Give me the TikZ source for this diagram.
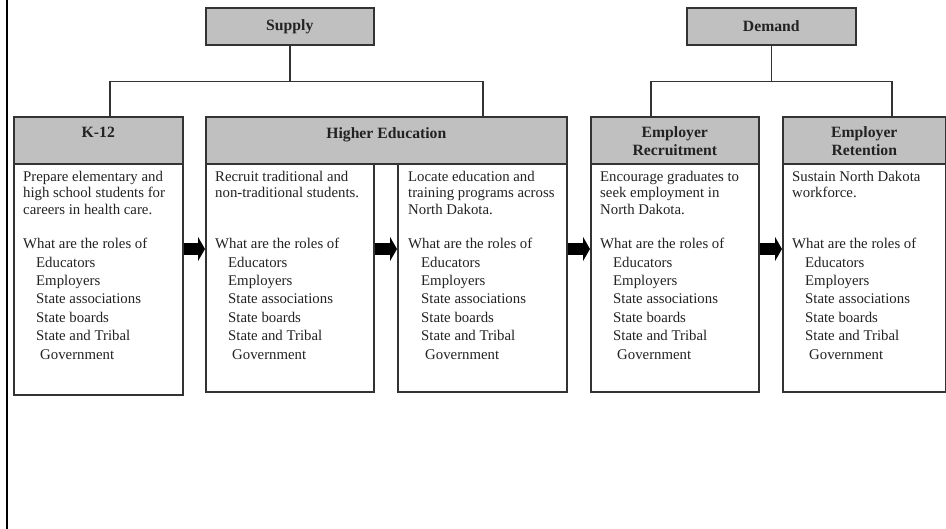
\documentclass[tikz,border=0pt]{standalone}
\usepackage{fontspec}
\setmainfont{Liberation Serif}
\usetikzlibrary{arrows.meta}
\definecolor{hdrgray}{HTML}{C0C0C0}
\definecolor{edge}{HTML}{333333}
\definecolor{ink}{HTML}{222222}

% shared list of actors in every stage
\newcommand{\rolelist}{What are the roles of\\
  \hspace*{13pt}Educators\\
  \hspace*{13pt}Employers\\
  \hspace*{13pt}State associations\\
  \hspace*{13pt}State boards\\
  \hspace*{13pt}State and Tribal\\
  \hspace*{17pt}Government}

\begin{document}
\begin{tikzpicture}[x=1pt,y=-1pt,
  box/.style={draw=edge, line width=1.6pt, fill=white, inner sep=0pt, anchor=north west},
  hdr/.style={box, fill=hdrgray},
  hdrfont/.style={font=\fontsize{15.7}{18}\selectfont\bfseries, text=ink},
  hdrtext/.style={hdrfont, align=center, inner sep=0pt, anchor=north},
  desc/.style={font=\fontsize{14.8}{16.3}\selectfont, text=ink, align=left, inner sep=0pt, anchor=north west},
  roles/.style={font=\fontsize{14.8}{18.4}\selectfont, text=ink, align=left, inner sep=0pt, anchor=north west},
  link/.style={draw=edge, line width=1.6pt},
  flow/.style={line width=11.5pt, -{Triangle[length=7pt,width=24pt]}}
]
\useasboundingbox (0,0) rectangle (946,529);

% left frame rule
\draw[line width=2.5pt] (7,0) -- (7,529);

% stage bodies
\node[box, minimum width=169pt, minimum height=231pt] (k12b) at (13,163) {};
\node[box, minimum width=168pt, minimum height=228pt] (recb) at (205,163) {};
\node[box, minimum width=169pt, minimum height=228pt] (locb) at (397,163) {};
\node[box, minimum width=168pt, minimum height=228pt] (erecb) at (590,163) {};
\node[box, minimum width=163pt, minimum height=228pt] (eretb) at (782,163) {};

% stage headers
\node[hdr, minimum width=169pt, minimum height=47pt] (k12h) at (13,116) {};
\node[hdr, minimum width=361pt, minimum height=47pt] (heh) at (205,116) {};
\node[hdr, minimum width=168pt, minimum height=47pt] (erech) at (590,116) {};
\node[hdr, minimum width=163pt, minimum height=47pt] (ereth) at (782,116) {};

\node[hdrtext] (k12t) at ([yshift=-11pt]k12h.north) {K-12};
\node[hdrtext] (het) at ([yshift=-11pt]heh.north) {Higher Education};
\node[hdrtext] (erect) at ([yshift=-10.5pt]erech.north) {Employer\\Recruitment};
\node[hdrtext] (erett) at ([yshift=-10.5pt]ereth.north) {Employer\\Retention};

% top-level groups
\node[hdr, hdrfont, minimum width=168pt, minimum height=37pt] (supply) at (205,7) {Supply};
\node[hdr, hdrfont, minimum width=169pt, minimum height=37pt] (demand) at (686,7) {Demand};

% tree connectors
\draw[link] (supply.south) -- ++(0,36) coordinate (sbar);
\draw[link] ([xshift=11.5pt]k12h.north) |- (sbar) -| ([xshift=96.5pt]heh.north);
\draw[link] (demand.south) -- ++(0,36) coordinate (dbar);
\draw[link] ([xshift=-24pt]erech.north) |- (dbar) -| ([xshift=27.5pt]ereth.north);

% descriptions
\node[desc] (k12d) at ([shift={(10,8)}]k12b.north west) {Prepare elementary and\\high school students for\\careers in health care.};
\node[desc] (recd) at ([shift={(10,8)}]recb.north west) {Recruit traditional and\\non-traditional students.};
\node[desc] (locd) at ([shift={(11,8)}]locb.north west) {Locate education and\\training programs across\\North Dakota.};
\node[desc] (erecd) at ([shift={(10,8)}]erecb.north west) {Encourage graduates to\\seek employment in\\North Dakota.};
\node[desc] (eretd) at ([shift={(10,8)}]eretb.north west) {Sustain North Dakota\\workforce.};

% role lists
\node[roles] (k12r) at ([shift={(10,75)}]k12b.north west) {\rolelist};
\node[roles] (recr) at ([shift={(10,75)}]recb.north west) {\rolelist};
\node[roles] (locr) at ([shift={(11,75)}]locb.north west) {\rolelist};
\node[roles] (erecr) at ([shift={(10,75)}]erecb.north west) {\rolelist};
\node[roles] (eretr) at ([shift={(10,75)}]eretb.north west) {\rolelist};

% flow arrows between stages
\coordinate (ay) at (0,249);
\draw[flow] (k12b.east |- ay) -- (recb.west |- ay);
\draw[flow] (recb.east |- ay) -- (locb.west |- ay);
\draw[flow] (locb.east |- ay) -- (erecb.west |- ay);
\draw[flow] (erecb.east |- ay) -- (eretb.west |- ay);
\end{tikzpicture}
\end{document}
